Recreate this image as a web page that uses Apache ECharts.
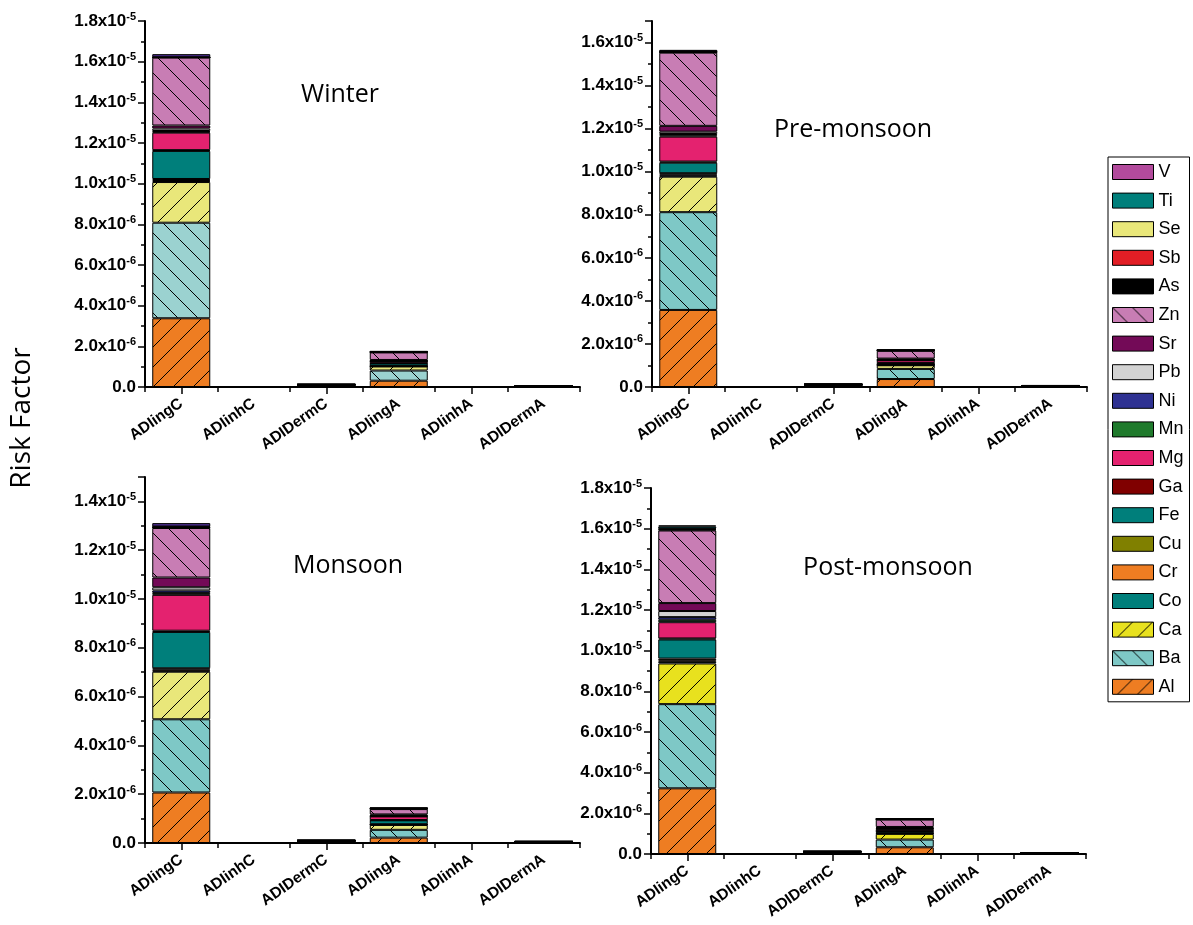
<!DOCTYPE html>
<html>
<head>
<meta charset="utf-8">
<script src="https://cdn.jsdelivr.net/npm/echarts@6/dist/echarts.min.js"></script>
<style>
  html, body { margin: 0; padding: 0; background: #fff; }
  #chart { width: 1193px; height: 925px; }
</style>
</head>
<body>
<div id="chart"></div>
<script>
// categories on every x axis
const categories = ['ADIingC', 'ADIinhC', 'ADIDermC', 'ADIingA', 'ADIinhA', 'ADIDermA'];
// stack order, bottom to top
const elements = ['Al', 'Ba', 'Ca', 'Co', 'Cr', 'Cu', 'Fe', 'Ga', 'Mg', 'Mn', 'Ni', 'Pb', 'Sr', 'Zn', 'As', 'Sb', 'Se', 'Ti', 'V'];
const seasons = ['Winter', 'Pre-monsoon', 'Monsoon', 'Post-monsoon'];

// risk values, in units of 1e-6, one entry per element (same order as elements)
//                  Al    Ba    Ca    Co    Cr    Cu    Fe    Ga    Mg    Mn    Ni    Pb    Sr    Zn    As    Sb    Se    Ti    V
const winterIngC = [3.38, 4.70, 2.00, 0.05, 0.05, 0.05, 1.38, 0.04, 0.86, 0.04, 0.04, 0.12, 0.15, 3.34, 0.01, 0, 0, 0.01, 0.15];
const winterInhC = [0.002, 0.002, 0.001, 0, 0, 0, 0.001, 0, 0.001, 0, 0, 0, 0, 0.001, 0, 0, 0, 0, 0];
const winterDermC = [0.03, 0.04, 0.02, 0, 0, 0, 0.01, 0, 0.01, 0, 0, 0, 0, 0.02, 0, 0, 0, 0, 0];
const winterIngA = [0.31, 0.50, 0.20, 0.01, 0.01, 0.01, 0.12, 0.01, 0.09, 0.01, 0.01, 0.02, 0.03, 0.37, 0.01, 0.01, 0.01, 0.01, 0.02];
const winterInhA = [0.001, 0.001, 0, 0, 0, 0, 0, 0, 0, 0, 0, 0, 0, 0, 0, 0, 0, 0, 0];
const winterDermA = [0.02, 0.02, 0.01, 0, 0, 0, 0.005, 0, 0.005, 0, 0, 0, 0, 0.01, 0, 0, 0, 0, 0];

const preIngC = [3.58, 4.54, 1.65, 0.05, 0.05, 0.06, 0.49, 0.05, 1.16, 0.06, 0.06, 0.11, 0.27, 3.40, 0.02, 0.01, 0.01, 0.01, 0.08];
const preInhC = [0.002, 0.002, 0.001, 0, 0, 0, 0.001, 0, 0.001, 0, 0, 0, 0, 0.001, 0, 0, 0, 0, 0];
const preDermC = [0.03, 0.04, 0.02, 0, 0, 0, 0.01, 0, 0.01, 0, 0, 0, 0, 0.02, 0, 0, 0, 0, 0];
const preIngA = [0.37, 0.47, 0.17, 0.01, 0.01, 0.01, 0.06, 0.01, 0.13, 0.01, 0.01, 0.02, 0.04, 0.36, 0.01, 0.01, 0.01, 0.01, 0.02];
const preInhA = [0.001, 0.001, 0, 0, 0, 0, 0, 0, 0, 0, 0, 0, 0, 0, 0, 0, 0, 0, 0];
const preDermA = [0.02, 0.02, 0.01, 0, 0, 0, 0.005, 0, 0.005, 0, 0, 0, 0, 0.01, 0, 0, 0, 0, 0];

const monsoonIngC = [2.07, 3.00, 1.95, 0.04, 0.05, 0.05, 1.49, 0.05, 1.47, 0.08, 0.10, 0.13, 0.40, 2.03, 0.02, 0.01, 0.01, 0.02, 0.14];
const monsoonInhC = [0.002, 0.002, 0.001, 0, 0, 0, 0.001, 0, 0.001, 0, 0, 0, 0, 0.001, 0, 0, 0, 0, 0];
const monsoonDermC = [0.02, 0.03, 0.02, 0, 0, 0, 0.01, 0, 0.01, 0, 0, 0, 0, 0.02, 0, 0, 0, 0, 0];
const monsoonIngA = [0.22, 0.32, 0.20, 0.01, 0.01, 0.01, 0.16, 0.01, 0.15, 0.01, 0.01, 0.02, 0.04, 0.22, 0.01, 0.01, 0.01, 0.01, 0.02];
const monsoonInhA = [0.001, 0.001, 0, 0, 0, 0, 0, 0, 0, 0, 0, 0, 0, 0, 0, 0, 0, 0, 0];
const monsoonDermA = [0.015, 0.02, 0.01, 0, 0, 0, 0.005, 0, 0.005, 0, 0, 0, 0, 0.01, 0, 0, 0, 0, 0];

const postIngC = [3.23, 4.14, 2.00, 0.08, 0.08, 0.08, 0.94, 0.05, 0.80, 0.12, 0.13, 0.30, 0.39, 3.57, 0.04, 0.03, 0.03, 0.10, 0.05];
const postInhC = [0.002, 0.002, 0.001, 0, 0, 0, 0.001, 0, 0.001, 0, 0, 0, 0, 0.001, 0, 0, 0, 0, 0];
const postDermC = [0.03, 0.04, 0.02, 0, 0, 0, 0.01, 0, 0.01, 0, 0, 0, 0, 0.02, 0, 0, 0, 0, 0];
const postIngA = [0.33, 0.38, 0.28, 0.02, 0.02, 0.02, 0.08, 0.01, 0.08, 0.02, 0.02, 0.03, 0.04, 0.36, 0.01, 0.01, 0.01, 0.02, 0.01];
const postInhA = [0.001, 0.001, 0, 0, 0, 0, 0, 0, 0, 0, 0, 0, 0, 0, 0, 0, 0, 0, 0];
const postDermA = [0.02, 0.02, 0.01, 0, 0, 0, 0.005, 0, 0.005, 0, 0, 0, 0, 0.01, 0, 0, 0, 0, 0];

// y axis maxima (units of 1e-6)
const yMax = [18, 17, 15, 18];

const panelData = [
  [winterIngC, winterInhC, winterDermC, winterIngA, winterInhA, winterDermA],
  [preIngC, preInhC, preDermC, preIngA, preInhA, preDermA],
  [monsoonIngC, monsoonInhC, monsoonDermC, monsoonIngA, monsoonInhA, monsoonDermA],
  [postIngC, postInhC, postDermC, postIngA, postInhA, postDermA]
];

// colours
const elementColors = {
  Al: '#EE7D22', Ba: '#7EC8C6', Ca: '#E8E11E', Co: '#007F7B', Cr: '#EE7D22', Cu: '#808000',
  Fe: '#007F7B', Ga: '#800000', Mg: '#E4226F', Mn: '#1F7A2C', Ni: '#2E3192', Pb: '#D3D3D3',
  Sr: '#730A57', Zn: '#C87DB4', As: '#000000', Sb: '#E21E25', Se: '#E9E77A', Ti: '#007F7B', V: '#B24A9C'
};
const hatchDir = { Al: '/', Ba: '\\', Ca: '/', Zn: '\\' };
// the Ca / Ba fills look a bit different from panel to panel
const panelCaColor = ['#E9E77A', '#E9E77A', '#E9E77A', '#E8E11E'];
const panelBaColor = ['#9BD2D0', '#7EC8C6', '#7EC8C6', '#7EC8C6'];
// colour of the thin top band in each panel
const panelTopColor = ['#4B2C8C', '#3A2A6E', '#4B2C8C', '#B24A9C'];

// grid boxes (px)
const grids = [
  { left: 145, top: 21, width: 435, height: 366 },
  { left: 652, top: 21, width: 435, height: 366 },
  { left: 145, top: 477, width: 435, height: 366 },
  { left: 651, top: 488, width: 435, height: 366 }
];
const titlePos = [[340, 95], [853, 130], [348, 566], [888, 568]];

function hatchPattern(base, dir) {
  const s = 20;
  const c = document.createElement('canvas');
  c.width = s; c.height = s;
  const g = c.getContext('2d');
  g.fillStyle = base;
  g.fillRect(0, 0, s, s);
  g.strokeStyle = '#000';
  g.lineWidth = 1;
  g.beginPath();
  for (const k of [-s, 0, s]) {
    if (dir === '\\') { g.moveTo(k - 1, -1); g.lineTo(k + s + 1, s + 1); }
    else { g.moveTo(k - 1, s + 1); g.lineTo(k + s + 1, -1); }
  }
  g.stroke();
  return { image: c, repeat: 'repeat' };
}

function fillFor(el, panel) {
  let base = elementColors[el];
  if (panel != null && el === 'Ca') base = panelCaColor[panel];
  if (panel != null && el === 'Ba') base = panelBaColor[panel];
  if (panel != null && el === 'V') base = panelTopColor[panel];
  return hatchDir[el] ? hatchPattern(base, hatchDir[el]) : base;
}

function yLabel(v) {
  if (Math.abs(v) < 1e-9) return '0.0';
  if (Math.abs(v - Math.round(v / 2) * 2) > 1e-6) return '';
  if (v < 10) return v.toFixed(1) + 'x10{sup|-6}';
  return (v / 10).toFixed(1) + 'x10{sup|-5}';
}

const chart = echarts.init(document.getElementById('chart'), null, { renderer: 'canvas' });

const xAxes = [], yAxes = [], series = [], graphics = [];
grids.forEach((g, i) => {
  // main axis: line, labels and ticks on category boundaries
  xAxes.push({
    type: 'category', gridIndex: i, data: categories,
    axisLine: { lineStyle: { color: '#000', width: 2 } },
    axisTick: { show: true, alignWithLabel: false, length: 5, lineStyle: { color: '#000', width: 1.5 } },
    axisLabel: {
      rotate: 35, margin: 15, color: '#000', fontSize: 15.5, fontWeight: 'bold',
      fontFamily: 'Liberation Sans, Arial, sans-serif', interval: 0
    }
  });
  // second axis only for the longer ticks under each category
  xAxes.push({
    type: 'category', gridIndex: i, data: categories, position: 'bottom',
    axisLine: { show: false },
    axisTick: { show: true, alignWithLabel: true, length: 7, lineStyle: { color: '#000', width: 1.5 } },
    axisLabel: { show: false }
  });
  yAxes.push({
    type: 'value', gridIndex: i, min: 0, max: yMax[i], interval: 2,
    splitLine: { show: false },
    axisLine: { show: true, lineStyle: { color: '#000', width: 2 } },
    axisTick: { show: true, length: 7, lineStyle: { color: '#000', width: 1.5 } },
    minorTick: { show: true, splitNumber: 2, length: 4, lineStyle: { color: '#000', width: 1.5 } },
    axisLabel: {
      color: '#000', fontSize: 17, fontWeight: 'bold', margin: 9,
      fontFamily: 'Liberation Sans, Arial, sans-serif',
      formatter: yLabel,
      rich: {
        sup: { fontSize: 11, fontWeight: 'bold', fontFamily: 'Liberation Sans, Arial, sans-serif', color: '#000', padding: [0, 0, 9, 0] }
      }
    }
  });
  elements.forEach((el, ei) => {
    series.push({
      type: 'bar', name: el, stack: 'panel' + i,
      xAxisIndex: i * 2, yAxisIndex: i,
      barCategoryGap: '20%',
      data: panelData[i].map(cat => cat[ei]),
      itemStyle: { color: fillFor(el, i), borderColor: '#000', borderWidth: 1 },
      emphasis: { disabled: true },
      animation: false
    });
  });
  graphics.push({
    type: 'text', x: titlePos[i][0], y: titlePos[i][1],
    style: { text: seasons[i], font: '25px "Open Sans", sans-serif', fill: '#000', align: 'center', verticalAlign: 'middle' }
  });
});

graphics.push({
  type: 'text', x: 22, y: 418, rotation: Math.PI / 2,
  style: { text: 'Risk Factor', font: '28px "Open Sans", sans-serif', fill: '#000', align: 'center', verticalAlign: 'middle' }
});

const legendNames = elements.slice().reverse();

chart.setOption({
  animation: false,
  grid: grids,
  xAxis: xAxes,
  yAxis: yAxes,
  series: series,
  graphic: graphics,
  legend: {
    orient: 'vertical', left: 1108, top: 157,
    selectedMode: false,
    itemWidth: 41, itemHeight: 15, itemGap: 10.6,
    padding: [6, 6, 6, 4],
    borderColor: '#000', borderWidth: 1,
    textStyle: { fontSize: 18, color: '#000', lineHeight: 17, fontFamily: 'Liberation Sans, Arial, sans-serif' },
    data: legendNames.map(n => ({
      name: n, icon: 'rect',
      itemStyle: { color: fillFor(n, null), borderColor: '#000', borderWidth: 1 }
    }))
  }
});
</script>
</body>
</html>
